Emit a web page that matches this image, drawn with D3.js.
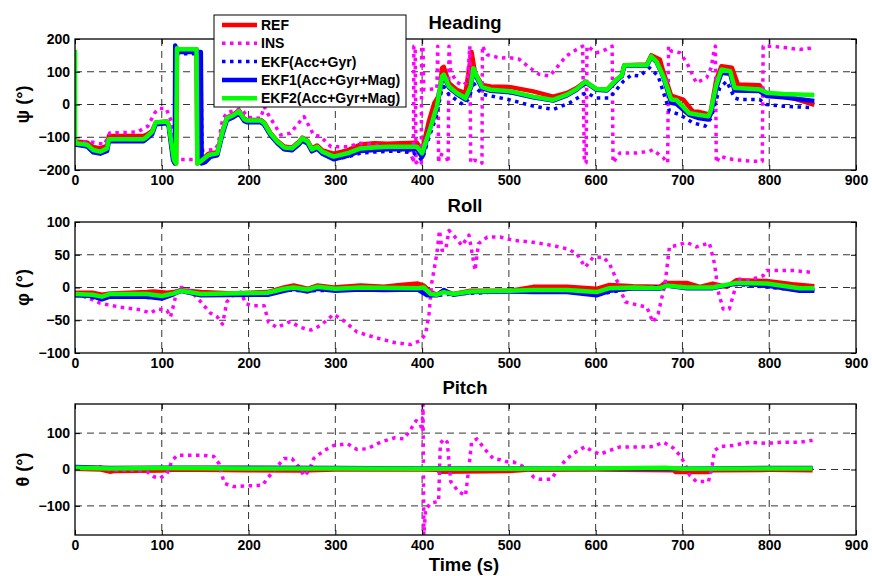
<!DOCTYPE html>
<html>
<head>
<meta charset="utf-8">
<script src="https://cdn.jsdelivr.net/npm/d3@7"></script>
<style>
body { margin: 0; background: #fff; }
svg text { font-family: "Liberation Sans", Arial, sans-serif; font-weight: bold; fill: #000; }
</style>
</head>
<body>
<svg id="chart" width="872" height="576"></svg>
<script>
// tick values
var timeTicks = [0, 100, 200, 300, 400, 500, 600, 700, 800, 900];
var headingTicks = [-200, -100, 0, 100, 200];
var rollTicks = [-100, -50, 0, 50, 100];
var pitchTicks = [-100, 0, 100];

var seriesNames = ['REF', 'INS', 'EKF(Acc+Gyr)', 'EKF1(Acc+Gyr+Mag)', 'EKF2(Acc+Gyr+Mag)'];

// ---- Heading, [time s, deg] ----
var headingREF = [[0,-113],[14,-116],[21,-130],[29,-134],[37,-126],[39,-96],[79,-96],[83,-92],[89,-80],[93,-55],[106,-52],[108,-62],[114,-169],[116.5,-180],[117.5,172],[118,169],[140,169],[141,-180],[144.6,-172],[154,-150],[164,-146],[170,-80],[175,-40],[183,-30],[189,-18],[195,-43],[198,-47],[214,-47],[218,-55],[225,-86],[233,-111],[241,-128],[250,-132],[258,-114],[262,-101],[268,-111],[273,-134],[279,-125],[285,-140],[298,-150],[314,-140],[329,-122],[345,-118],[360,-120],[375,-118],[394,-117],[400,-140],[408,-50],[414,4],[420,30],[423,111],[425,115],[431,65],[440,45],[450,35],[457,160],[461,96],[469,60],[479,55],[502,53],[528,40],[551,24],[567,35],[578,50],[588,70],[601,47],[613,45],[624,76],[630,88],[633,120],[659,122],[664,150],[674,137],[678,100],[687,27],[693,22],[701,15],[712,-21],[718,-22],[732,-31],[739,76],[745,117],[757,112],[764,61],[789,59],[795,36],[820,26],[852,-1]];
var headingINS = [[0,-114],[18,-114],[34,-122],[40,-87],[72,-84],[84,-66],[92,-25],[97,-12],[105,-12],[111,-51],[115,-165],[120,-168],[138,-168],[147,-140],[161,-138],[165,-122],[170,-46],[175,-25],[185,-18],[191,-12],[200,-40],[214,-42],[218,-6],[222,-27],[237,-93],[248,-88],[264,-37],[275,-93],[283,-98],[295,-129],[314,-129],[329,-118],[345,-123],[368,-134],[385,-144],[389,-165],[390,-178],[390.5,178],[392,178],[393,-178],[397,-170],[399,-178],[399.5,178],[401,178],[402,45],[417,48],[418,178],[419,-178],[420,-150],[428,-160],[430,-178],[431,178],[433,100],[440,68],[447,58],[452,70],[455,178],[456,-178],[460,-170],[468,-175],[469,-179],[469.5,179],[473,160],[475,152],[490,142],[501,143],[512,138],[524,112],[535,92],[547,87],[555,112],[566,148],[578,168],[585,178],[587,-178],[589,-178],[590,178],[593,173],[601,158],[612,168],[619,178],[620,-178],[628,-148],[647,-148],[662,-143],[666,-138],[678,-163],[683,-178],[684,178],[687,163],[697,158],[705,128],[716,66],[728,82],[733,112],[737,173],[738,178],[739,-178],[743,-158],[758,-168],[778,-173],[792,-173],[793,178],[803,178],[820,173],[835,168],[851,173]];
var headingEKF = [[0,-122],[14,-128],[21,-146],[29,-150],[37,-142],[39,-112],[79,-112],[83,-104],[89,-90],[93,-60],[106,-57],[108,-67],[113,-170],[115,-180],[115.5,180],[117,155],[145,155],[146.5,-180],[150,-176],[156,-160],[164,-155],[170,-90],[175,-48],[183,-38],[189,-27],[195,-50],[198,-54],[214,-54],[218,-62],[225,-93],[233,-118],[241,-137],[250,-140],[258,-122],[262,-110],[268,-119],[273,-143],[279,-135],[285,-150],[298,-167],[314,-160],[329,-148],[345,-145],[360,-143],[375,-143],[390,-148],[400,-170],[408,-100],[416,-40],[423,50],[425,55],[431,30],[447,0],[455,20],[458,71],[464,46],[470,31],[500,15],[528,-5],[551,-15],[570,5],[589,36],[601,20],[616,20],[632,71],[641,90],[651,87],[662,112],[672,87],[685,-20],[697,-31],[712,-56],[726,-66],[733,-41],[743,51],[751,71],[760,20],[766,15],[789,15],[797,0],[816,-5],[851,-10]];
var headingEKF1 = [[0,-122],[14,-128],[21,-146],[29,-150],[37,-142],[39,-112],[79,-112],[83,-104],[89,-90],[93,-60],[106,-57],[108,-67],[113,-170],[115,-180],[115.5,180],[117,160],[145,160],[146,-180],[150,-176],[156,-160],[164,-155],[170,-90],[175,-48],[183,-38],[189,-27],[195,-50],[198,-54],[214,-54],[218,-62],[225,-93],[233,-118],[241,-137],[250,-140],[258,-122],[262,-110],[268,-119],[273,-143],[279,-135],[285,-150],[298,-167],[314,-157],[329,-142],[345,-139],[360,-137],[375,-137],[394,-137],[400,-160],[408,-80],[416,-20],[423,78],[425,86],[431,52],[440,32],[450,15],[456,50],[459,105],[463,82],[469,50],[479,42],[502,37],[528,22],[551,12],[567,28],[578,45],[588,68],[601,45],[613,43],[624,73],[630,86],[633,118],[659,118],[664,145],[670,130],[678,84],[687,5],[693,2],[708,-32],[718,-41],[730,-46],[733,-25],[739,50],[745,97],[755,94],[760,43],[789,41],[797,26],[816,22],[852,11]];
var headingEKF2 = [[0,167],[0,-118],[14,-123],[21,-139],[29,-144],[37,-134],[39,-106],[79,-106],[83,-98],[89,-83],[93,-55],[106,-52],[108,-62],[114,-169],[116.5,-180],[117.5,172],[118,169],[140,169],[141,-180],[144.6,-174],[154,-154],[164,-149],[170,-83],[175,-42],[183,-32],[189,-21],[195,-45],[198,-49],[214,-49],[218,-57],[225,-88],[233,-113],[241,-131],[250,-134],[258,-116],[262,-103],[268,-113],[273,-137],[279,-129],[285,-144],[298,-159],[314,-149],[329,-134],[345,-131],[360,-129],[394,-129],[400,-149],[410,-67],[417,-6],[423,86],[425,91],[431,55],[440,35],[450,19],[456,55],[459,111],[463,86],[469,53],[479,45],[502,40],[528,24],[551,14],[567,30],[578,47],[588,70],[601,47],[613,45],[624,76],[630,88],[633,120],[659,120],[664,147],[670,132],[678,86],[687,15],[693,14],[708,-27],[718,-31],[730,-36],[733,-16],[739,60],[745,107],[755,102],[760,51],[789,46],[797,36],[816,32],[852,29]];

// ---- Roll ----
var rollREF = [[0,-8],[20,-8],[31,-11],[41,-9],[83,-7],[91,-6],[106,-8],[114,-7],[122,-4],[145,-7],[183,-9],[222,-7],[241,0],[252,3],[268,-2],[279,3],[298,0],[329,3],[356,1],[375,4],[395,6],[402,3],[410,-7],[417,-11],[425,-5],[436,-10],[456,-5],[502,-5],[528,1],[567,1],[601,-2],[616,4],[643,2],[674,1],[680,7],[705,7],[720,1],[735,6],[751,1],[762,11],[797,10],[827,5],[852,2]];
var rollINS = [[0,-9],[14,-15],[29,-24],[52,-30],[75,-34],[87,-39],[95,-33],[106,-35],[110,-45],[114,-25],[118,0],[123,0],[133,-5],[145,-22],[156,-39],[164,-45],[170,-56],[175,-22],[183,-10],[191,-7],[197,-25],[206,-28],[218,-28],[223,-53],[233,-61],[248,-52],[260,-61],[272,-65],[283,-58],[298,-41],[310,-51],[325,-68],[345,-76],[368,-84],[387,-87],[398,-81],[404,-71],[408,-40],[411,6],[417,52],[420,87],[423,57],[427,57],[431,87],[438,77],[446,64],[454,80],[457,57],[461,26],[465,67],[475,77],[490,77],[505,72],[528,69],[551,64],[567,59],[578,52],[588,31],[597,46],[609,46],[616,36],[626,6],[634,-22],[643,-25],[659,-30],[666,-53],[672,-40],[680,6],[685,62],[693,64],[705,69],[716,62],[731,68],[737,36],[741,-5],[747,-33],[754,-33],[760,-5],[764,13],[777,11],[793,18],[797,26],[812,26],[827,26],[850,23]];
var rollEKF = [[0,-12],[31,-17],[40,-13],[100,-16],[122,-6],[145,-11],[222,-10],[241,-4],[268,-5],[300,-4],[395,-2],[406,-11],[417,-12],[436,-10],[502,-6],[567,-6],[601,-11],[643,-1],[682,2],[735,-1],[762,5],[835,-4],[852,-4]];
var rollEKF1 = [[0,-12],[20,-13],[31,-18],[40,-14],[83,-14],[100,-17],[114,-10],[122,-5],[145,-12],[222,-11],[241,-5],[252,-2],[268,-6],[279,-2],[300,-5],[329,-3],[356,-4],[395,-3],[406,-12],[417,-12],[425,-4],[436,-11],[456,-7],[502,-6],[528,-7],[567,-7],[601,-12],[616,-5],[643,-1],[674,-2],[682,3],[705,-1],[735,-1],[762,6],[797,3],[835,-5],[852,-5]];
var rollEKF2 = [[0,-10],[20,-11],[31,-14],[40,-10],[83,-10],[100,-13],[114,-9],[122,-5],[145,-10],[222,-8],[241,-2],[252,0],[268,-3],[279,1],[300,-2],[329,0],[395,-1],[402,0],[410,-10],[417,-11],[425,-7],[436,-10],[456,-6],[502,-5],[528,-4],[567,-4],[601,-7],[616,-1],[643,0],[674,-1],[682,3],[705,0],[735,0],[762,7],[797,6],[835,-1],[852,-1]];

// ---- Pitch ----
var pitchREF = [[0,2],[30,0],[40,-6],[45,-4],[100,-3],[115,0],[200,-2],[260,-3],[300,0],[400,0],[418,-1],[420,-6],[500,-4],[520,-1],[600,0],[690,-2],[692,-7],[730,-7],[735,-2],[800,-1],[850,-2]];
var pitchINS = [[0,0],[29,7],[41,-2],[68,-2],[83,-6],[91,-20],[98,-24],[106,-11],[112,25],[118,39],[145,39],[160,36],[166,16],[172,-38],[183,-47],[198,-45],[216,-43],[222,-24],[231,3],[241,30],[250,30],[258,7],[264,-18],[270,-2],[275,30],[287,52],[298,66],[314,71],[325,55],[337,57],[352,75],[368,87],[379,84],[387,111],[393,134],[398,125],[400,107],[401,180],[402,-180],[404,-110],[410,-92],[419,-88],[421,71],[425,84],[429,75],[433,-33],[442,-61],[450,-72],[454,7],[457,75],[463,84],[475,48],[482,30],[490,27],[498,21],[505,21],[513,12],[521,3],[528,-20],[536,-27],[549,-27],[557,3],[567,30],[577,48],[588,63],[595,52],[605,42],[616,52],[628,62],[651,62],[666,63],[678,75],[689,60],[697,39],[703,16],[708,-15],[716,-33],[730,-33],[734,7],[737,52],[743,63],[758,66],[777,75],[797,72],[816,75],[835,75],[850,80]];
var pitchEKF = [[0,6],[40,4],[100,4],[200,4],[300,3],[400,3],[500,2],[600,2],[700,2],[800,3],[850,3]];
var pitchEKF1 = [[0,7],[40,4],[100,5],[200,5],[300,4],[400,3],[500,3],[600,2],[700,2],[800,4],[850,4]];
var pitchEKF2 = [[0,5],[40,3],[100,4],[200,3],[300,3],[400,2],[500,2],[600,3],[680,5],[700,2],[800,3],[850,3]];

// line styles in legend order
var styles = [
    { color: '#ff0000', dash: null, w: 4.5 },
    { color: '#ff00ff', dash: '3.5,4.5', w: 3.5 },
    { color: '#0000ff', dash: '3.5,4.5', w: 3.5 },
    { color: '#0000ff', dash: null, w: 4.5 },
    { color: '#00ff00', dash: null, w: 4.5 },
];

var plotL = 75, plotR = 856;

var panels = [
    { title: 'Heading', label: 'ψ (°)', top: 39, bottom: 170, domain: [-200, 200], ticks: headingTicks,
      data: [headingREF, headingINS, headingEKF, headingEKF1, headingEKF2] },
    { title: 'Roll', label: 'φ (°)', top: 222, bottom: 353, domain: [-100, 100], ticks: rollTicks,
      data: [rollREF, rollINS, rollEKF, rollEKF1, rollEKF2] },
    { title: 'Pitch', label: 'θ (°)', top: 404, bottom: 535, domain: [-180, 180], ticks: pitchTicks,
      data: [pitchREF, pitchINS, pitchEKF, pitchEKF1, pitchEKF2] },
];

var svg = d3.select('#chart');
var defs = svg.append('defs');

var x = d3.scaleLinear().domain([0, 900]).range([plotL, plotR]);

panels.forEach(function (p, pi) {
    var y = d3.scaleLinear().domain(p.domain).range([p.bottom, p.top]);
    var g = svg.append('g');

    defs.append('clipPath').attr('id', 'clip' + pi)
        .append('rect')
        .attr('x', plotL).attr('y', p.top)
        .attr('width', plotR - plotL).attr('height', p.bottom - p.top);

    // dashed grid
    g.selectAll('line.vg')
        .data(timeTicks.slice(1, -1))
        .join('line')
        .attr('class', 'vg')
        .attr('x1', d => x(d)).attr('x2', d => x(d))
        .attr('y1', p.top).attr('y2', p.bottom)
        .attr('stroke', '#000').attr('stroke-width', 0.8)
        .attr('stroke-dasharray', '7,5');

    g.selectAll('line.hg')
        .data(p.ticks.filter(d => d > p.domain[0] && d < p.domain[1]))
        .join('line')
        .attr('class', 'hg')
        .attr('y1', d => y(d)).attr('y2', d => y(d))
        .attr('x1', plotL).attr('x2', plotR)
        .attr('stroke', '#000').attr('stroke-width', 0.8)
        .attr('stroke-dasharray', '7,5');

    // series
    var line = d3.line().x(d => x(d[0])).y(d => y(d[1]));
    g.append('g')
        .attr('clip-path', 'url(#clip' + pi + ')')
        .selectAll('path')
        .data(p.data)
        .join('path')
        .attr('d', line)
        .attr('fill', 'none')
        .attr('stroke', (d, i) => styles[i].color)
        .attr('stroke-width', (d, i) => styles[i].w)
        .attr('stroke-dasharray', (d, i) => styles[i].dash)
        .attr('stroke-linejoin', 'round');

    // axes, ticks pointing inward
    var xa = g.append('g')
        .attr('transform', 'translate(0,' + p.bottom + ')')
        .call(d3.axisBottom(x).tickValues(timeTicks).tickSizeInner(-5).tickSizeOuter(0).tickPadding(5));
    var xt = g.append('g')
        .attr('transform', 'translate(0,' + p.top + ')')
        .call(d3.axisTop(x).tickValues(timeTicks).tickSizeInner(-5).tickSizeOuter(0).tickFormat(''));
    var ya = g.append('g')
        .attr('transform', 'translate(' + plotL + ',0)')
        .call(d3.axisLeft(y).tickValues(p.ticks).tickSizeInner(-5).tickSizeOuter(0).tickPadding(5));
    var yr = g.append('g')
        .attr('transform', 'translate(' + plotR + ',0)')
        .call(d3.axisRight(y).tickValues(p.ticks).tickSizeInner(-5).tickSizeOuter(0).tickFormat(''));

    [xa, xt, ya, yr].forEach(function (a) {
        a.select('.domain').remove();
        a.selectAll('line').attr('stroke', '#000');
        a.selectAll('text').attr('font-size', 14).attr('font-family', null);
    });

    // box
    g.append('rect')
        .attr('x', plotL).attr('y', p.top)
        .attr('width', plotR - plotL).attr('height', p.bottom - p.top)
        .attr('fill', 'none').attr('stroke', '#000').attr('stroke-width', 1.3);

    g.append('text')
        .attr('x', 465).attr('y', p.top - 10)
        .attr('text-anchor', 'middle')
        .attr('font-size', 18.5)
        .text(p.title);

    g.append('text')
        .attr('transform', 'translate(29,' + (p.top + p.bottom) / 2 + ') rotate(-90)')
        .attr('text-anchor', 'middle')
        .attr('font-size', 18)
        .text(p.label);
});

svg.append('text')
    .attr('x', 464).attr('y', 571)
    .attr('text-anchor', 'middle')
    .attr('font-size', 18.5)
    .text('Time (s)');

// legend
var lg = svg.append('g');
lg.append('rect')
    .attr('x', 214).attr('y', 15).attr('width', 192).attr('height', 92)
    .attr('fill', '#fff').attr('stroke', '#000').attr('stroke-width', 1);

var rows = lg.selectAll('g.row')
    .data(seriesNames)
    .join('g')
    .attr('class', 'row')
    .attr('transform', (d, i) => 'translate(0,' + (25 + i * 18.3) + ')');

rows.append('line')
    .attr('x1', 222).attr('x2', 257)
    .attr('stroke', (d, i) => styles[i].color)
    .attr('stroke-width', (d, i) => styles[i].w)
    .attr('stroke-dasharray', (d, i) => styles[i].dash);

rows.append('text')
    .attr('x', 261).attr('dy', '0.35em')
    .attr('font-size', 14)
    .text(d => d);
</script>
</body>
</html>
